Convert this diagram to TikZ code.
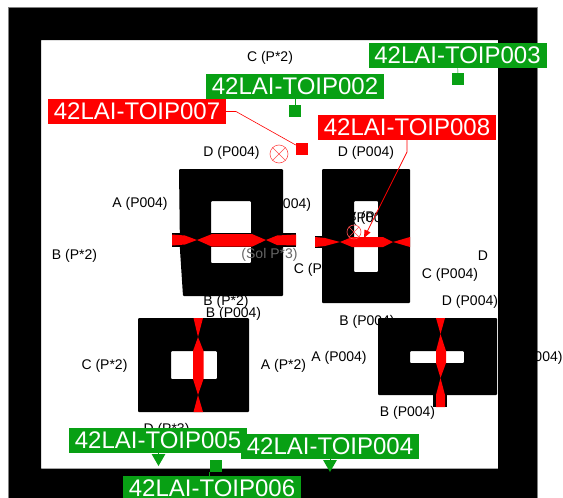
\documentclass[tikz,border=0pt]{standalone}
\usepackage{fontspec}
\setmainfont{Liberation Sans}
\usepackage{xcolor}
\usetikzlibrary{shapes.geometric}
\usetikzlibrary{arrows}
\definecolor{taggreen}{RGB}{8,160,20}

\begin{document}
\begin{tikzpicture}[x=1pt,y=-1pt,
  pinlabel/.style={font=\fontsize{14}{16}\selectfont,text=black,inner sep=0pt},
  tag/.style={rectangle,text=white,font=\fontsize{24}{26}\selectfont,inner sep=0pt,minimum width=178pt,minimum height=25pt},
  sqmark/.style={rectangle,inner sep=0pt,minimum size=12pt},
  trimark/.style={regular polygon,regular polygon sides=3,shape border rotate=180,fill=taggreen,inner sep=0pt,minimum size=16pt},
  valve/.style={circle,draw=red!70,inner sep=0pt,line width=0.6pt}]
\useasboundingbox (0,0) rectangle (563,498);

\fill [even odd rule] (8.5,7.5) rectangle (537,498) (41,40) rectangle (498,468.5);
\draw [gray,very thin] (8.5,498) -- (8.5,7.5) -- (537,7.5) -- (537,498);

\node [pinlabel] (c1) at (270,58) {C (P*2)};
\node [pinlabel] (d1) at (231.5,153) {D (P004)};
\node [pinlabel] (a1) at (140,204) {A (P004)};
\node [pinlabel] (b1) at (74.5,256) {B (P*2)};
\node [pinlabel] (c2) at (283,205) {C (P004)};
\node [pinlabel] (c3) at (322,270) {C (P004)};
\node [pinlabel] (d2) at (366,153) {D (P004)};
\node [pinlabel] (d3) at (483,256) {D};
\node [pinlabel] (c4) at (450,275) {C (P004)};
\node [pinlabel] (d4) at (470,302) {D (P004)};
\node [pinlabel] (b2) at (367,322) {B (P004)};
\node [pinlabel] (b3) at (226,302) {B (P*2)};
\node [pinlabel] (b4) at (233.5,314) {B (P004)};
\node [pinlabel] (c5) at (104.5,366) {C (P*2)};
\node [pinlabel] (a2) at (283.5,366) {A (P*2)};
\node [pinlabel] (a3) at (339,358) {A (P004)};
\node [pinlabel] (b5) at (407.5,413) {B (P004)};
\node [pinlabel] (c6) at (534.5,358) {C (P004)};
\node [pinlabel] (d5) at (166.5,430) {D (P*3)};

\fill [even odd rule,rounded corners=1pt] (179,169) -- (283,169) -- (283,296) -- (183,296) -- (180,250) -- cycle
  (211,201) rectangle (251,263);
\fill [even odd rule,rounded corners=1pt] (322,169) rectangle (410,303) (354,201) rectangle (378,272);
\fill [even odd rule,rounded corners=1pt] (138,318) rectangle (249,412) (171,351) rectangle (217,379);
\fill [even odd rule,rounded corners=1pt] (378,318) rectangle (497,395) (410,351) rectangle (464,363);
\fill (172,233) rectangle (296,247);
\fill (315,236) rectangle (322,248);
\fill (433,395) rectangle (447,407);

\node [pinlabel,text=black!60] (s1) at (269.5,255) {(Sol P*3)};
\node [pinlabel] (d6) at (366,219) {D (P004)};
\node [pinlabel] (d7) at (370,218) {B (P*3)};

\fill [red] (172,234.5) -- (185,235.5) -- (197,240) -- (212,234) -- (252,234) -- (266,240) -- (277,235.5) -- (296,234.5)
  -- (296,245.5) -- (277,245) -- (266,240) -- (252,246.7) -- (212,246.7) -- (197,240) -- (185,244.5) -- (172,245.5) -- cycle;
\fill [red] (315,237) -- (325,238) -- (340,242) -- (352,237) -- (383,237) -- (393,242) -- (410,237)
  -- (410,247) -- (393,242) -- (383,247) -- (352,247) -- (340,242) -- (325,246) -- (315,247) -- cycle;
\fill [red] (193.5,318) -- (203,318) -- (198,337) -- (203.5,351) -- (203.5,379) -- (198,395) -- (203,412)
  -- (193.5,412) -- (198,395) -- (193,379) -- (193,351) -- (198,337) -- cycle;
\fill [red] (436,318) -- (445,318) -- (440.5,334) -- (446,351) -- (446,363) -- (440.5,378) -- (445,395) -- (445,407)
  -- (436,407) -- (436,395) -- (440.5,378) -- (436,363) -- (436,351) -- (440.5,334) -- cycle;

\node [valve,minimum size=18pt] (xv1) at (279,154) {};
\draw [red!70,line width=0.6pt] (xv1.north west) -- (xv1.south east);
\draw [red!70,line width=0.6pt] (xv1.north east) -- (xv1.south west);
\node [valve,minimum size=14pt] (xv2) at (354,232) {};
\draw [red!70,line width=0.6pt] (xv2.north west) -- (xv2.south east);
\draw [red!70,line width=0.6pt] (xv2.north east) -- (xv2.south west);

\node [tag,fill=taggreen] (toip003) at (457.5,55.5) {42LAI-TOIP003};
\node [tag,fill=taggreen] (toip002) at (295,86.5) {42LAI-TOIP002};
\node [tag,fill=red] (toip007) at (137,111.5) {42LAI-TOIP007};
\node [tag,fill=red] (toip008) at (407,127.5) {42LAI-TOIP008};
\node [tag,fill=taggreen] (toip006) at (212,488.5) {42LAI-TOIP006};
\node [tag,fill=taggreen] (toip005) at (158,440) {42LAI-TOIP005};
\node [tag,fill=taggreen] (toip004) at (330,446.5) {42LAI-TOIP004};

\node [sqmark,fill=taggreen] (m003) at (458,79) {};
\node [sqmark,fill=taggreen] (m002) at (295,111) {};
\node [sqmark,fill=red] (m007) at (302,148.5) {};
\node [sqmark,fill=taggreen] (m006) at (216,466) {};
\node [trimark] (m005) at (158.5,458) {};
\node [trimark] (m004) at (330,464) {};

\coordinate (k007) at (236,111.5);
\coordinate (k008) at (407,152);
\coordinate (e008) at (364,238);

\draw [taggreen] (toip003) -- (m003);
\draw [taggreen] (toip002) -- (m002);
\draw [taggreen] (m005.north) -- (m005.north |- toip005.south);
\draw [taggreen] (m004.north) -- (m004.north |- toip004.south);
\draw [taggreen,thick] (m006.south west) -- (m006.south west |- toip006.north);
\draw [red,semithick] (toip007.east) -- (k007) -- (m007);
\draw [-triangle 45,red,thick] (toip008.south) -- (k008) -- (e008);
\end{tikzpicture}
\end{document}
